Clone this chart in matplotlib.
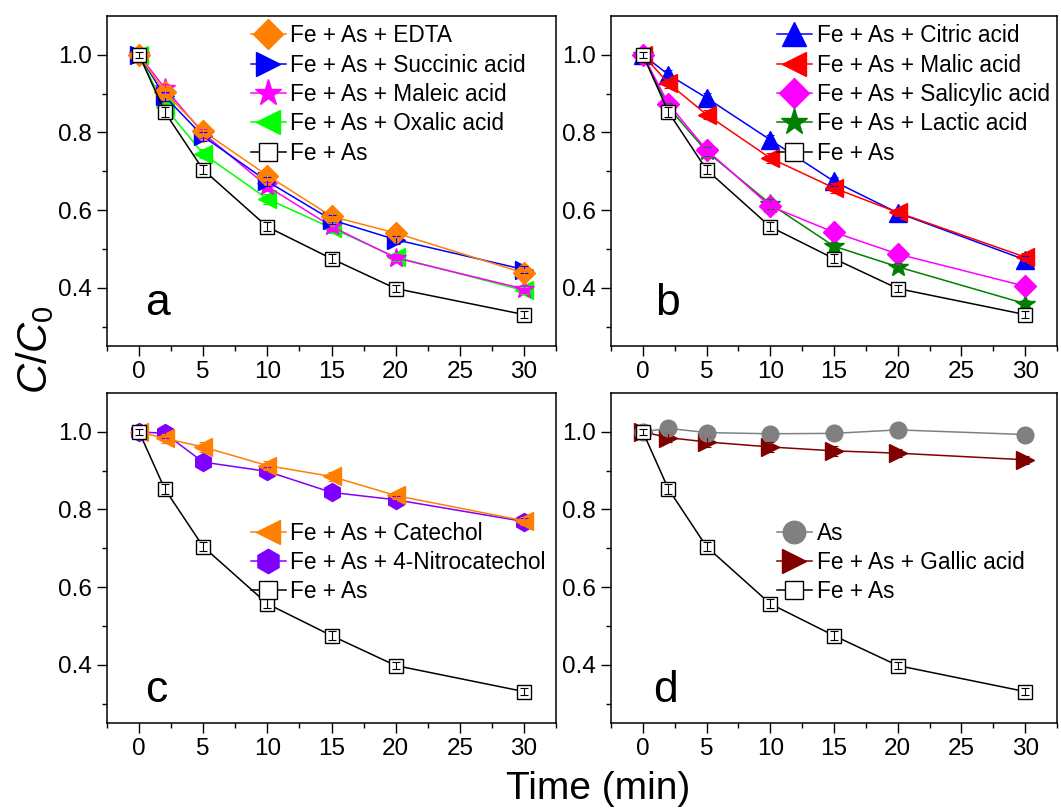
import matplotlib.pyplot as plt
import numpy as np

plt.rcParams['font.family'] = ['Liberation Sans', 'DejaVu Sans']
plt.rcParams['mathtext.fontset'] = 'custom'
plt.rcParams['mathtext.it'] = 'Liberation Sans:italic'
plt.rcParams['mathtext.rm'] = 'Liberation Sans'

# time points (min)
t = [0, 2, 5, 10, 15, 20, 30]

# common control
fe_as = [1.0, 0.853, 0.704, 0.557, 0.475, 0.398, 0.331]

# panel a
edta = [1.0, 0.903, 0.803, 0.689, 0.584, 0.541, 0.438]
succinic = [1.0, 0.893, 0.790, 0.674, 0.575, 0.524, 0.447]
maleic = [1.0, 0.914, 0.798, 0.661, 0.558, 0.477, 0.397]
oxalic = [1.0, 0.865, 0.745, 0.629, 0.554, 0.479, 0.393]

# panel b
citric = [1.0, 0.949, 0.889, 0.781, 0.674, 0.593, 0.472]
malic = [1.0, 0.927, 0.846, 0.734, 0.657, 0.594, 0.479]
salicylic = [1.0, 0.874, 0.755, 0.610, 0.543, 0.487, 0.404]
lactic = [1.0, 0.865, 0.751, 0.616, 0.507, 0.454, 0.359]

# panel c
catechol = [1.0, 0.983, 0.961, 0.913, 0.885, 0.836, 0.771]
nitrocatechol = [1.0, 0.996, 0.922, 0.898, 0.844, 0.825, 0.769]

# panel d
as_only = [1.0, 1.009, 0.998, 0.995, 0.996, 1.005, 0.993]
gallic = [1.0, 0.985, 0.974, 0.961, 0.951, 0.945, 0.928]

# small error bars
err = [0.008, 0.012, 0.012, 0.012, 0.012, 0.010, 0.010]

fig = plt.figure(figsize=(10.61, 8.08), dpi=100)
W, H = 1061, 808


def make_ax(l, r, top, bot):
    return fig.add_axes([l / W, 1 - bot / H, (r - l) / W, (bot - top) / H])


ax_a = make_ax(107, 556, 16, 346)
ax_b = make_ax(611, 1057, 16, 346)
ax_c = make_ax(107, 556, 393, 723)
ax_d = make_ax(611, 1057, 393, 723)


def series(ax, y, label, marker, color, ms=12, mfc=None, z=2):
    white = mfc == 'white'
    ax.errorbar(t, y, yerr=err, fmt='none', ecolor='k' if white else color,
                elinewidth=0.8, capsize=3, capthick=0.8, zorder=z + 0.1)
    ax.plot(t, y, color=color, lw=1.1, marker=marker, ms=ms,
            mfc=mfc if mfc else color, mec='k' if white else color, mew=1.0,
            label=label, zorder=z)


def fe_as_series(ax):
    series(ax, fe_as, 'Fe + As', 's', 'k', ms=10, mfc='white', z=3)


def style(ax, letter, lx, ly):
    ax.set_xlim(-2.5, 32.5)
    ax.set_ylim(0.25, 1.1)
    ax.set_xticks([0, 5, 10, 15, 20, 25, 30])
    ax.set_xticks(np.arange(-2.5, 33, 2.5), minor=True)
    ax.set_yticks([0.4, 0.6, 0.8, 1.0])
    ax.set_yticks([0.3, 0.5, 0.7, 0.9], minor=True)
    ax.tick_params(which='major', direction='out', length=7, width=1, labelsize=17.5, pad=4)
    ax.tick_params(which='minor', direction='out', length=3.5, width=1)
    for s in ax.spines.values():
        s.set_linewidth(1.1)
    ax.text(lx, ly, letter, transform=ax.transAxes, fontsize=32, ha='left', va='baseline')


def legend(ax, order, x, y):
    h, l = ax.get_legend_handles_labels()
    d = dict(zip(l, h))
    ax.legend([d[k] for k in order], order, loc='upper left', bbox_to_anchor=(x, y),
              frameon=False, fontsize=16.3, handlelength=1.55, handletextpad=0.2,
              labelspacing=0.28, borderpad=0, borderaxespad=0, markerscale=1.35)


# a
fe_as_series(ax_a)
series(ax_a, oxalic, 'Fe + As + Oxalic acid', '<', '#00FF00', ms=13)
series(ax_a, maleic, 'Fe + As + Maleic acid', '*', '#FF00FF', ms=15)
series(ax_a, succinic, 'Fe + As + Succinic acid', '>', '#0000FF', ms=13)
series(ax_a, edta, 'Fe + As + EDTA', 'D', '#FF8000', ms=11)
style(ax_a, 'a', 0.085, 0.094)
legend(ax_a, ['Fe + As + EDTA', 'Fe + As + Succinic acid', 'Fe + As + Maleic acid',
              'Fe + As + Oxalic acid', 'Fe + As'], 0.32, 0.975)

# b
fe_as_series(ax_b)
series(ax_b, lactic, 'Fe + As + Lactic acid', '*', '#008000', ms=15)
series(ax_b, citric, 'Fe + As + Citric acid', '^', '#0000FF', ms=13)
series(ax_b, malic, 'Fe + As + Malic acid', '<', '#FF0000', ms=13)
series(ax_b, salicylic, 'Fe + As + Salicylic acid', 'D', '#FF00FF', ms=11)
style(ax_b, 'b', 0.099, 0.094)
legend(ax_b, ['Fe + As + Citric acid', 'Fe + As + Malic acid', 'Fe + As + Salicylic acid',
              'Fe + As + Lactic acid', 'Fe + As'], 0.372, 0.975)

# c
fe_as_series(ax_c)
series(ax_c, nitrocatechol, 'Fe + As + 4-Nitrocatechol', 'h', '#8000FF', ms=13)
series(ax_c, catechol, 'Fe + As + Catechol', '<', '#FF8000', ms=13)
style(ax_c, 'c', 0.085, 0.064)
legend(ax_c, ['Fe + As + Catechol', 'Fe + As + 4-Nitrocatechol', 'Fe + As'], 0.32, 0.61)

# d
fe_as_series(ax_d)
series(ax_d, gallic, 'Fe + As + Gallic acid', '>', '#800000', ms=13)
series(ax_d, as_only, 'As', 'o', '#808080', ms=12)
style(ax_d, 'd', 0.094, 0.064)
legend(ax_d, ['As', 'Fe + As + Gallic acid', 'Fe + As'], 0.372, 0.61)

fig.text(0.033, 0.567, '$C/C_0$', rotation=90, fontsize=30, ha='center', va='center')
fig.text(0.564, 0.024, 'Time (min)', fontsize=28, ha='center', va='center')

fig.savefig('out.png', dpi=100)
